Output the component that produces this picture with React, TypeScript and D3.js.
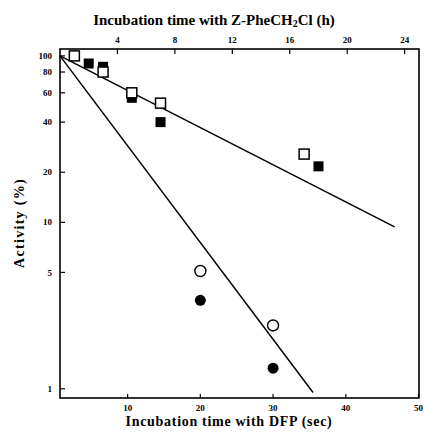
import React from "react";
import * as d3 from "d3";

// Top axis: hours with Z-PheCH2Cl (squares)
const openSquares: [number, number][] = [[1, 100], [3, 80], [5, 60], [7, 52], [17, 25.7]];
const filledSquares: [number, number][] = [[2, 90], [3, 86], [5, 56], [7, 40], [18, 21.7]];
// Bottom axis: seconds with DFP (circles)
const openCircles: [number, number][] = [[20, 5.1], [30, 2.4]];
const filledCircles: [number, number][] = [[20, 3.4], [30, 1.33]];
// Fitted lines
const hourLine: [number, number][] = [[0, 100], [23.3, 9.4]];
const secLine: [number, number][] = [[0.7, 100], [35.5, 0.95]];

const topTicks = [4, 8, 12, 16, 20, 24];
const bottomTicks = [10, 20, 30, 40, 50];
const leftTicks = [100, 80, 60, 40, 20, 10, 5, 1];

const W = 424, H = 439;
const L = 60, R = 419, T = 49, B = 398;

export default function App() {
  const xTop = d3.scaleLinear().domain([0, 25]).range([L, R]);
  const xBot = d3.scaleLinear().domain([0.7, 50]).range([L, 418.5]);
  const y = d3.scaleLog().domain([0.88, 110]).range([B, T]);

  const lineTop = d3.line<[number, number]>().x(d => xTop(d[0])).y(d => y(d[1]));
  const lineBot = d3.line<[number, number]>().x(d => xBot(d[0])).y(d => y(d[1]));

  const font = "'Liberation Serif', 'Times New Roman', serif";
  const sq = 10;

  return (
    <svg width={W} height={H} style={{ position: "absolute", left: 0, top: 0, background: "#fff" }}
      fontFamily={font} fontWeight="bold">
      <rect x={0} y={0} width={W} height={H} fill="#fff" />
      {/* frame */}
      <rect x={L} y={T} width={R - L} height={B - T} fill="none" stroke="#000" strokeWidth={1.6} />

      {/* left ticks */}
      {leftTicks.map(t => (
        <g key={"l" + t}>
          <line x1={L} x2={L + 5} y1={y(t)} y2={y(t)} stroke="#000" strokeWidth={1.2} />
          <text x={L - 8} y={y(t)} dy="0.35em" textAnchor="end" fontSize={9}>{t}</text>
        </g>
      ))}
      {/* top ticks */}
      {topTicks.map(t => (
        <g key={"t" + t}>
          <line x1={xTop(t)} x2={xTop(t)} y1={T} y2={T + 5} stroke="#000" strokeWidth={1.2} />
          <text x={xTop(t)} y={T - 6} textAnchor="middle" fontSize={9}>{t}</text>
        </g>
      ))}
      {/* bottom ticks */}
      {bottomTicks.map(t => (
        <g key={"b" + t}>
          <line x1={xBot(t)} x2={xBot(t)} y1={B} y2={B - 4} stroke="#000" strokeWidth={1.2} />
          <text x={xBot(t)} y={B + 13} textAnchor="middle" fontSize={9}>{t}</text>
        </g>
      ))}

      {/* fitted lines */}
      <path d={lineTop(hourLine) || ""} fill="none" stroke="#000" strokeWidth={1.5} />
      <path d={lineBot(secLine) || ""} fill="none" stroke="#000" strokeWidth={1.5} />

      {/* squares */}
      {filledSquares.map((d, i) => (
        <rect key={"fs" + i} x={xTop(d[0]) - sq / 2} y={y(d[1]) - sq / 2} width={sq} height={sq} fill="#000" />
      ))}
      {openSquares.map((d, i) => (
        <rect key={"os" + i} x={xTop(d[0]) - sq / 2} y={y(d[1]) - sq / 2} width={sq} height={sq}
          fill="#fff" stroke="#000" strokeWidth={1.5} />
      ))}
      {/* circles */}
      {filledCircles.map((d, i) => (
        <circle key={"fc" + i} cx={xBot(d[0])} cy={y(d[1])} r={5.5} fill="#000" />
      ))}
      {openCircles.map((d, i) => (
        <circle key={"oc" + i} cx={xBot(d[0])} cy={y(d[1])} r={5.5} fill="#fff" stroke="#000" strokeWidth={1.4} />
      ))}

      {/* titles */}
      <text x={214} y={25} textAnchor="middle" fontSize={15}>
        Incubation time with Z-PheCH<tspan fontSize={10} dy={2}>2</tspan><tspan dy={-2}>Cl (h)</tspan>
      </text>
      <text x={229} y={426} textAnchor="middle" fontSize={14} letterSpacing={0.7}>Incubation time with DFP (sec)</text>
      <text transform={`translate(24,223) rotate(-90)`} textAnchor="middle" fontSize={14} letterSpacing={1.3}>Activity (%)</text>
    </svg>
  );
}
